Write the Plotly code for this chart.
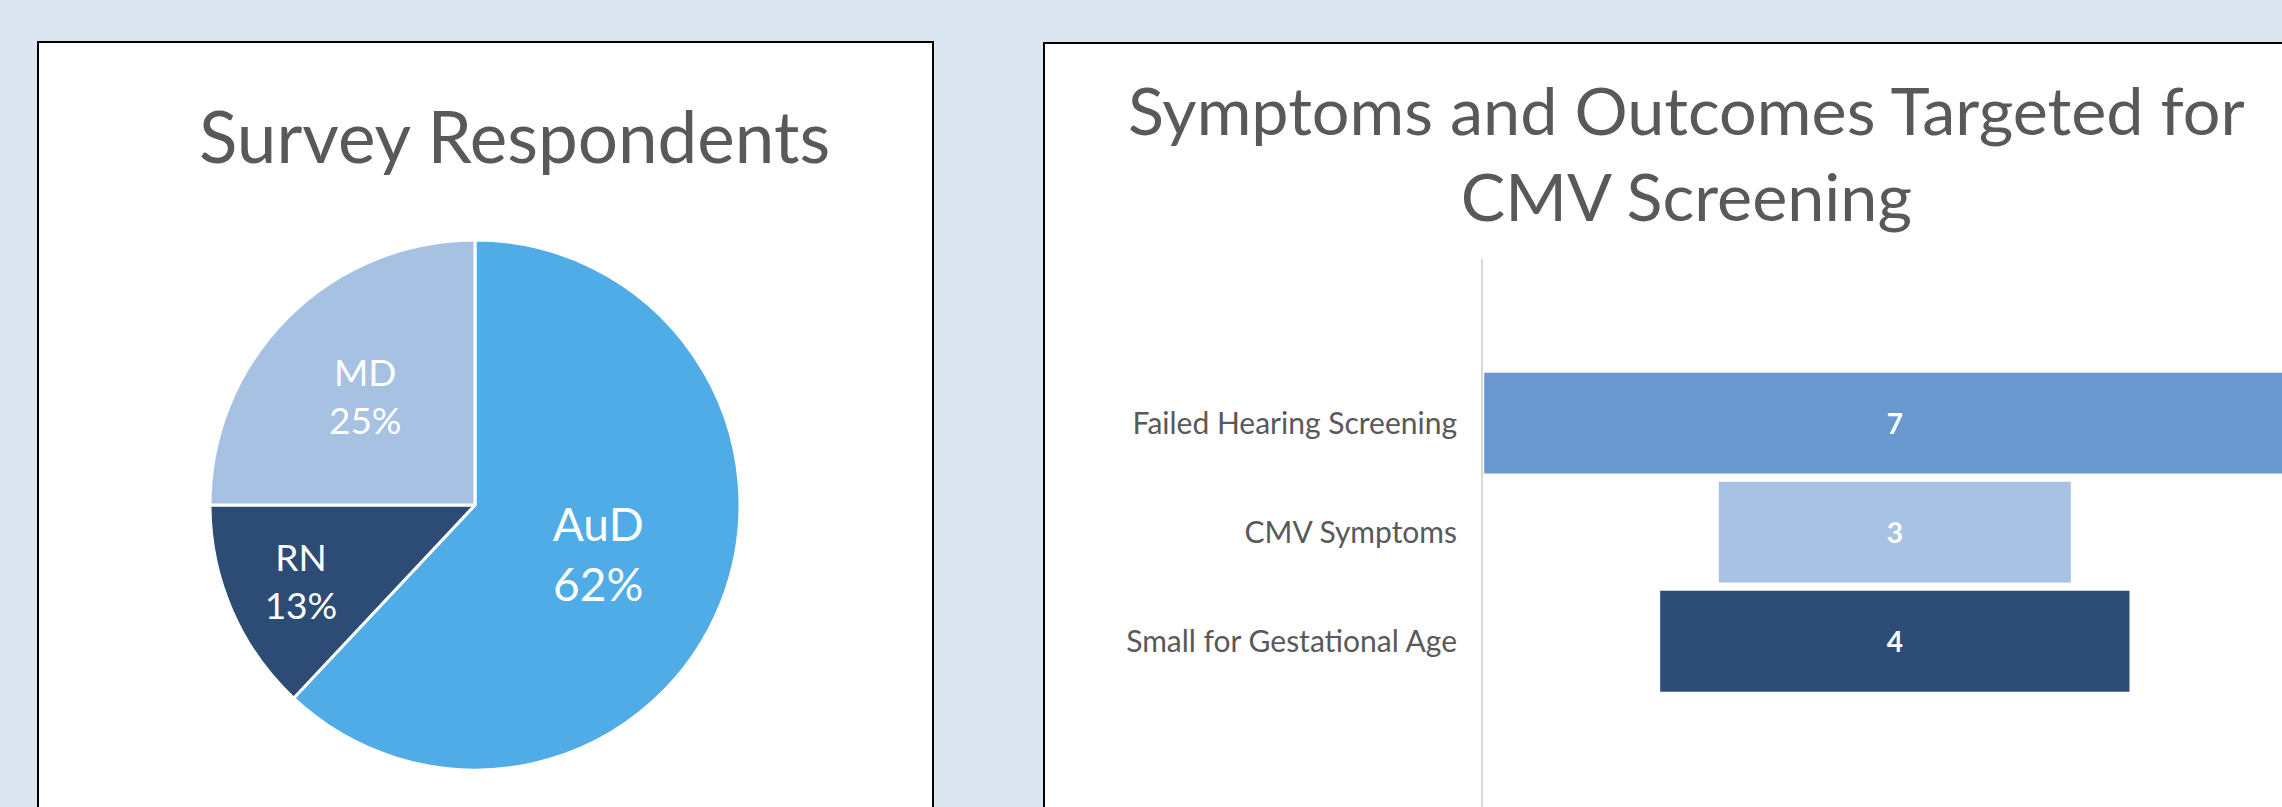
import plotly.graph_objects as go

# ---- data ----
pie_labels = ["AuD", "RN", "MD"]
pie_values = [62, 13, 25]
pie_colors = ["#4FACE7", "#2C4C75", "#A6C1E2"]

bar_categories = ["Failed Hearing Screening", "CMV Symptoms", "Small for Gestational Age"]
bar_values = [7, 3, 4]
bar_colors = ["#6898CD", "#A7C2E2", "#2D4D76"]

W, H = 2282, 807
FONT = "Lato"
GREY = "#595959"

def px(x):
    return x / W

def py(y):
    return 1 - y / H

fig = go.Figure()

fig.add_trace(go.Pie(
    labels=pie_labels, values=pie_values, sort=False, direction="clockwise", rotation=0,
    marker=dict(colors=pie_colors, line=dict(color="white", width=3)),
    texttemplate="%{label}<br>%{percent}", textposition="inside",
    insidetextorientation="horizontal",
    textfont=dict(family=FONT, color="white", size=[46, 37, 37]),
    domain=dict(x=[px(210), px(740)], y=[py(770), py(240)]),
    showlegend=False, hoverinfo="label+percent",
))

fig.add_trace(go.Funnel(
    y=bar_categories, x=bar_values, orientation="h",
    marker=dict(color=bar_colors, line=dict(width=0)),
    textinfo="value", textposition="inside", insidetextanchor="middle",
    textfont=dict(family=FONT, color="white", size=28, weight="bold"),
    connector=dict(visible=False), showlegend=False,
))

fig.update_layout(
    width=W, height=H, margin=dict(l=0, r=0, t=0, b=0),
    paper_bgcolor="#DCE6F1", plot_bgcolor="rgba(0,0,0,0)",
    funnelgap=0.075,
    font=dict(family=FONT, color=GREY),
    xaxis=dict(domain=[px(1483), 1.0], range=[-3.51, 3.30], visible=False, fixedrange=True),
    yaxis=dict(domain=[0, py(259)], range=[3.52, -1.505], showline=True, linecolor="#D9D9D9",
               linewidth=2, showgrid=False, ticks="", ticklabelstandoff=18,
               tickfont=dict(family=FONT, size=30, color=GREY), zeroline=False),
    shapes=[
        dict(type="rect", xref="paper", yref="paper", x0=px(38), x1=px(933), y0=-0.2, y1=py(42),
             line=dict(color="black", width=2), fillcolor="white", layer="below"),
        dict(type="rect", xref="paper", yref="paper", x0=px(1044), x1=1.2, y0=-0.2, y1=py(43),
             line=dict(color="black", width=2), fillcolor="white", layer="below"),
    ],
    annotations=[
        dict(text="Survey Respondents", xref="paper", yref="paper", x=px(514), y=py(135),
             xanchor="center", yanchor="middle", showarrow=False,
             font=dict(family=FONT, size=71, color=GREY)),
        dict(text="Symptoms and Outcomes Targeted for<br>CMV Screening", xref="paper", yref="paper",
             x=px(1686), y=py(152), xanchor="center", yanchor="middle", showarrow=False,
             font=dict(family=FONT, size=66.5, color=GREY)),
    ],
)

fig.write_html("out.html", config={"displayModeBar": False})

# remove the default page margin so the figure sits at the window origin
with open("out.html", "r", encoding="utf-8") as f:
    html = f.read()
html = html.replace("<head>", "<head><style>html,body{margin:0;padding:0;overflow:hidden;}</style>", 1)
with open("out.html", "w", encoding="utf-8") as f:
    f.write(html)
